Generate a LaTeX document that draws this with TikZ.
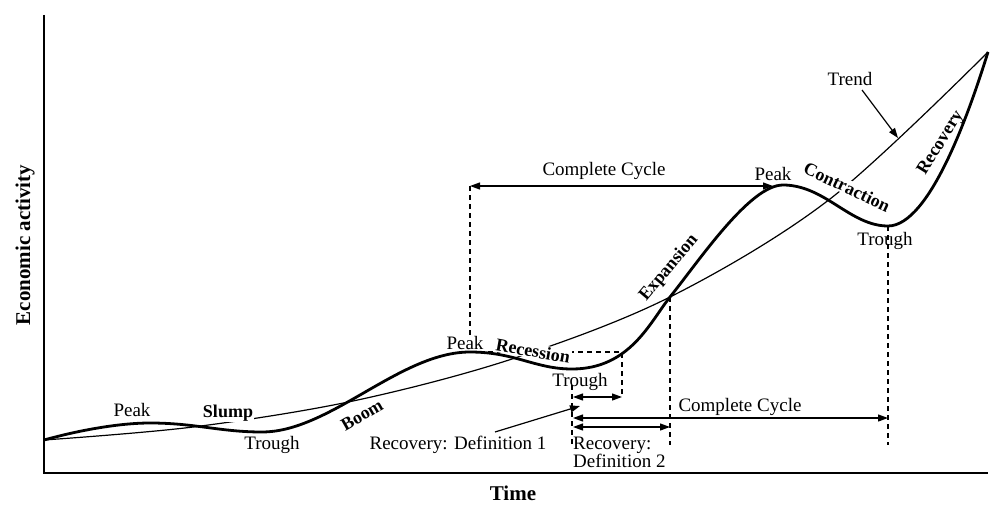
\documentclass[tikz,border=0pt]{standalone}
\usepackage{fontspec}
\setmainfont{Liberation Serif}
\usetikzlibrary{arrows.meta}
\begin{document}
\begin{tikzpicture}[x=1pt,y=-1pt,
  lbl/.style={font=\fontsize{19}{21}\selectfont, inner sep=1pt},
  phase/.style={font=\fontsize{18}{20}\selectfont\bfseries, inner sep=1pt},
  axlbl/.style={font=\fontsize{21}{23}\selectfont\bfseries},
  axisline/.style={line width=2.4pt, line join=miter},
  trendline/.style={line width=1.2pt},
  bigcurve/.style={line width=2.8pt},
  guide/.style={line width=1.1pt, dash pattern=on 5pt off 4pt},
  dbl/.style={line width=1.2pt, {Triangle[length=10pt,width=7pt]}-{Triangle[length=10pt,width=7pt]}},
  sgl/.style={line width=1.2pt, -{Triangle[length=10pt,width=7pt]}},
  cover/.style={fill=white}
]
\useasboundingbox (0,0) rectangle (1005,511);

% key points
\coordinate (O) at (44,473);
\coordinate (Ytop) at (44,15);
\coordinate (Xend) at (988,473);
\coordinate (S) at (44,440);
\coordinate (P1) at (150,423);
\coordinate (T1) at (262,432);
\coordinate (P2) at (470,352);
\coordinate (T2) at (572,369);
\coordinate (X) at (670,297);
\coordinate (P3) at (783,185);
\coordinate (T3) at (888,226);
\coordinate (E) at (988,52);

% axes
\draw[axisline] (Ytop) -- (O) -- (Xend);

% trend
\draw[trendline] plot[smooth, tension=0.55] coordinates {(44,440) (193,427) (353,401) (512,359) (670,297) (830,199) (988,52)};

% dashed guides
\coordinate (cA) at (470,186);
\coordinate (cB) at (773,186);
\coordinate (cAlow) at (470,338);
\coordinate (D1) at (622,352);
\coordinate (D2) at (622,397);
\coordinate (R1a) at (572,385);
\coordinate (R1b) at (572,445);
\coordinate (Xb) at (670,445);
\coordinate (T3b) at (888,445);
\draw[guide] (cA) -- (cAlow);
\draw[guide] (P2) -- (D1) -- (D2);
\draw[guide] (R1a) -- (R1b);
\draw[guide] (X) -- (Xb);
\draw[guide] (T3) -- (T3b);

% arrows
\coordinate (a1l) at (573,397);
\coordinate (a2l) at (573,418);
\coordinate (a2r) at (888,418);
\coordinate (a3l) at (573,427);
\coordinate (a3r) at (670,427);
\coordinate (d1s) at (495,432);
\coordinate (d1e) at (580,406);
\coordinate (trs) at (862,90);
\coordinate (tre) at (898,138);
\draw[dbl] (a1l) -- (D2);
\draw[dbl] (a2l) -- (a2r);
\draw[dbl] (a3l) -- (a3r);
\draw[dbl] (cA) -- (cB);
\draw[sgl] (d1s) -- (d1e);
\draw[sgl] (trs) -- (tre);

% covering phase labels
\node[phase, cover] (slump) at (228,413) {Slump};
\node[phase, cover, rotate=-10] (recess) at (533,351) {Recession};
\node[phase, cover, rotate=-25] (contr) at (847,187) {Contraction};

% business cycle curve
\draw[bigcurve] (S) .. controls (80,430) and (120,423) .. (P1)
  .. controls (195,423) and (220,432) .. (T1)
  .. controls (330,432) and (400,352) .. (P2)
  .. controls (515,352) and (535,369) .. (T2)
  .. controls (630,369) and (650,322) .. (X)
  .. controls (700,259.5) and (750,185) .. (P3)
  .. controls (825,185) and (850,226) .. (T3)
  .. controls (930,226) and (970,110) .. (E);

% other phase labels
\node[phase, rotate=30] (boom) at (362,415) {Boom};
\node[phase, rotate=50] (expan) at (669,268) {Expansion};
\node[phase, rotate=58] (recov) at (941,143) {Recovery};

% plain labels
\node[lbl] (pk1) at (132,410) {Peak};
\node[lbl] (tr1) at (272,445) {Trough};
\node[lbl] (pk2) at (465,343) {Peak};
\node[lbl] (tr2) at (580,382) {Trough};
\node[lbl] (pk3) at (773,174) {Peak};
\node[lbl] (tr3) at (885,241) {Trough};
\node[lbl] (cc1) at (604,171) {Complete Cycle};
\node[lbl] (cc2) at (740,407) {Complete Cycle};
\node[lbl] (rd1) at (458,445) {Recovery: Definition 1};
\node[lbl, font=\fontsize{19}{18}\selectfont, anchor=north west, align=left] (rd2) at (572,436) {Recovery:\\Definition 2};
\node[lbl] (trend) at (850,79) {Trend};

% axis labels
\node[axlbl, rotate=90] (ylab) at (25,245) {Economic activity};
\node[axlbl] (xlab) at (513,493) {Time};
\end{tikzpicture}
\end{document}
